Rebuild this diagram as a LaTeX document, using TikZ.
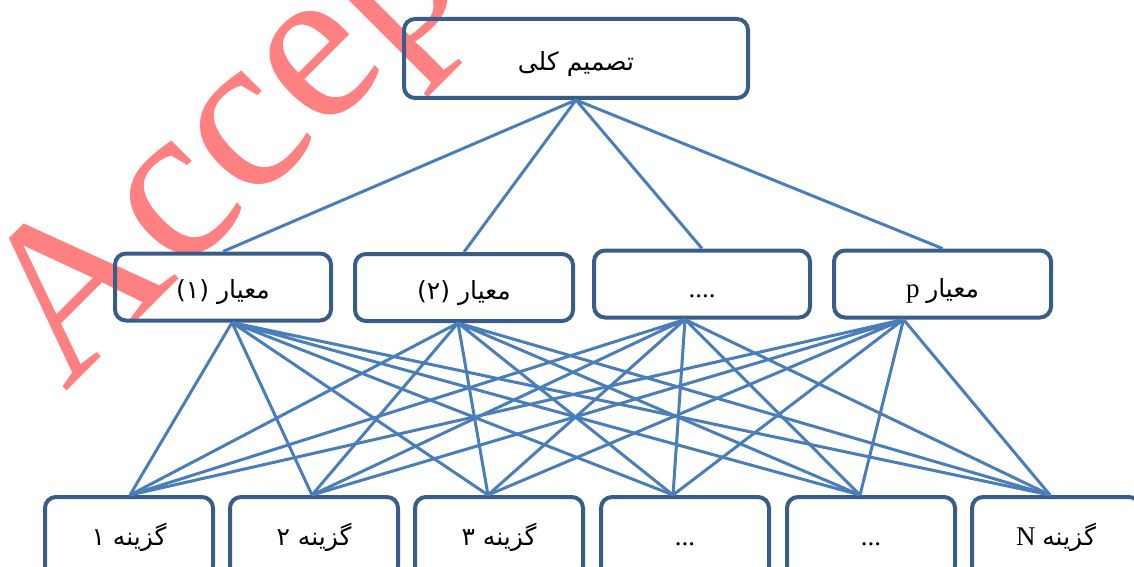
\documentclass[tikz,border=0pt]{standalone}
\usepackage{fontspec}
\usetikzlibrary{calc,positioning}
\setmainfont{Liberation Serif}
\newfontfamily\farsifont[Script=Arabic]{DejaVu Sans}
\TeXXeTstate=1
\definecolor{color_box_border}{HTML}{385D8A}
\definecolor{color_link}{HTML}{4A7EBB}
\definecolor{color_stamp}{HTML}{FF8080}
\newcommand{\fa}[1]{{\farsifont\fontsize{25}{29}\selectfont #1}}

\begin{document}
\begin{tikzpicture}[x=1pt,y=-1pt,
		box/.style={draw=color_box_border,line width=4pt,rounded corners=11pt,inner sep=0pt,text depth=0pt,font=\fontsize{27}{30}\selectfont},
		crit/.style={box,minimum height=67pt,text height=23pt},
		alt/.style={box,minimum width=168pt,minimum height=80pt,text height=16pt},
		link/.style={line width=3pt,color_link}]
	\useasboundingbox (0,0) rectangle (1134,567);

	% Stamp
	\begin{scope}
		\clip (0,0) rectangle (1134,567);
		\node[anchor=base west,rotate=45,inner sep=0pt,text=color_stamp,font=\fontsize{225}{225}\selectfont] (stamp) at (65,393) {Accepted};
	\end{scope}

	% Goal
	\node[box,minimum width=344pt,minimum height=79pt,text height=24pt] (goal) at (576,58.5) {\beginR\fa{تصمیم کلی}\endR};

	% Criteria
	\node[crit,minimum width=216pt] (crit1) at (223,287) {\beginR\fa{معیار (۱)}\endR};
	\node[crit,minimum width=218pt] (crit2) at (464,287.5) {\beginR\fa{معیار (۲)}\endR};
	\node[crit,minimum width=216pt,text height=26pt] (crit3) at (702,284) {....};
	\node[crit,minimum width=217pt,text height=26pt] (crit4) at (942.5,284) {\beginR\fa{معیار} p\endR};

	% Alternatives
	\node[alt] (alt1) at (129,537) {\beginR\fa{گزینه ۱}\endR};
	\node[alt] (alt2) at (314,537) {\beginR\fa{گزینه ۲}\endR};
	\node[alt] (alt3) at (499,537) {\beginR\fa{گزینه ۳}\endR};
	\node[alt] (alt4) at (685,537) {...};
	\node[alt] (alt5) at (871,537) {...};
	\node[alt] (alt6) at (1056,537) {\beginR\fa{گزینه} N\endR};

	% Points
	\coordinate (c1p) at ($(crit1.south)+(9,0)$);
	\coordinate (c2p) at ($(crit2.south)+(-6,0)$);
	\coordinate (c3p) at ($(crit3.south)+(-17,0)$);
	\coordinate (c4p) at ($(crit4.south)+(-39,0)$);
	\coordinate (a1p) at ($(alt1.north)+(1,0)$);
	\coordinate (a2p) at ($(alt2.north)+(-2,0)$);
	\coordinate (a3p) at ($(alt3.north)+(-11,0)$);
	\coordinate (a4p) at ($(alt4.north)+(-12,0)$);
	\coordinate (a5p) at ($(alt5.north)+(-11,0)$);
	\coordinate (a6p) at ($(alt6.north)+(-6,0)$);

	% Goal to criteria
	\draw[link]
		(goal.south) -- (crit1.north)
		(goal.south) -- (crit2.north)
		(goal.south) -- (crit3.north)
		(goal.south) -- (crit4.north)
		;

	% Criteria to alternatives
	\draw[link]
		(c1p) -- (a1p) (c1p) -- (a2p) (c1p) -- (a3p)
		(c1p) -- (a4p) (c1p) -- (a5p) (c1p) -- (a6p)
		;
	\draw[link]
		(c2p) -- (a1p) (c2p) -- (a2p) (c2p) -- (a3p)
		(c2p) -- (a4p) (c2p) -- (a5p) (c2p) -- (a6p)
		;
	\draw[link]
		(c3p) -- (a1p) (c3p) -- (a2p) (c3p) -- (a3p)
		(c3p) -- (a4p) (c3p) -- (a5p) (c3p) -- (a6p)
		;
	\draw[link]
		(c4p) -- (a1p) (c4p) -- (a2p) (c4p) -- (a3p)
		(c4p) -- (a4p) (c4p) -- (a5p) (c4p) -- (a6p)
		;
\end{tikzpicture}
\end{document}
